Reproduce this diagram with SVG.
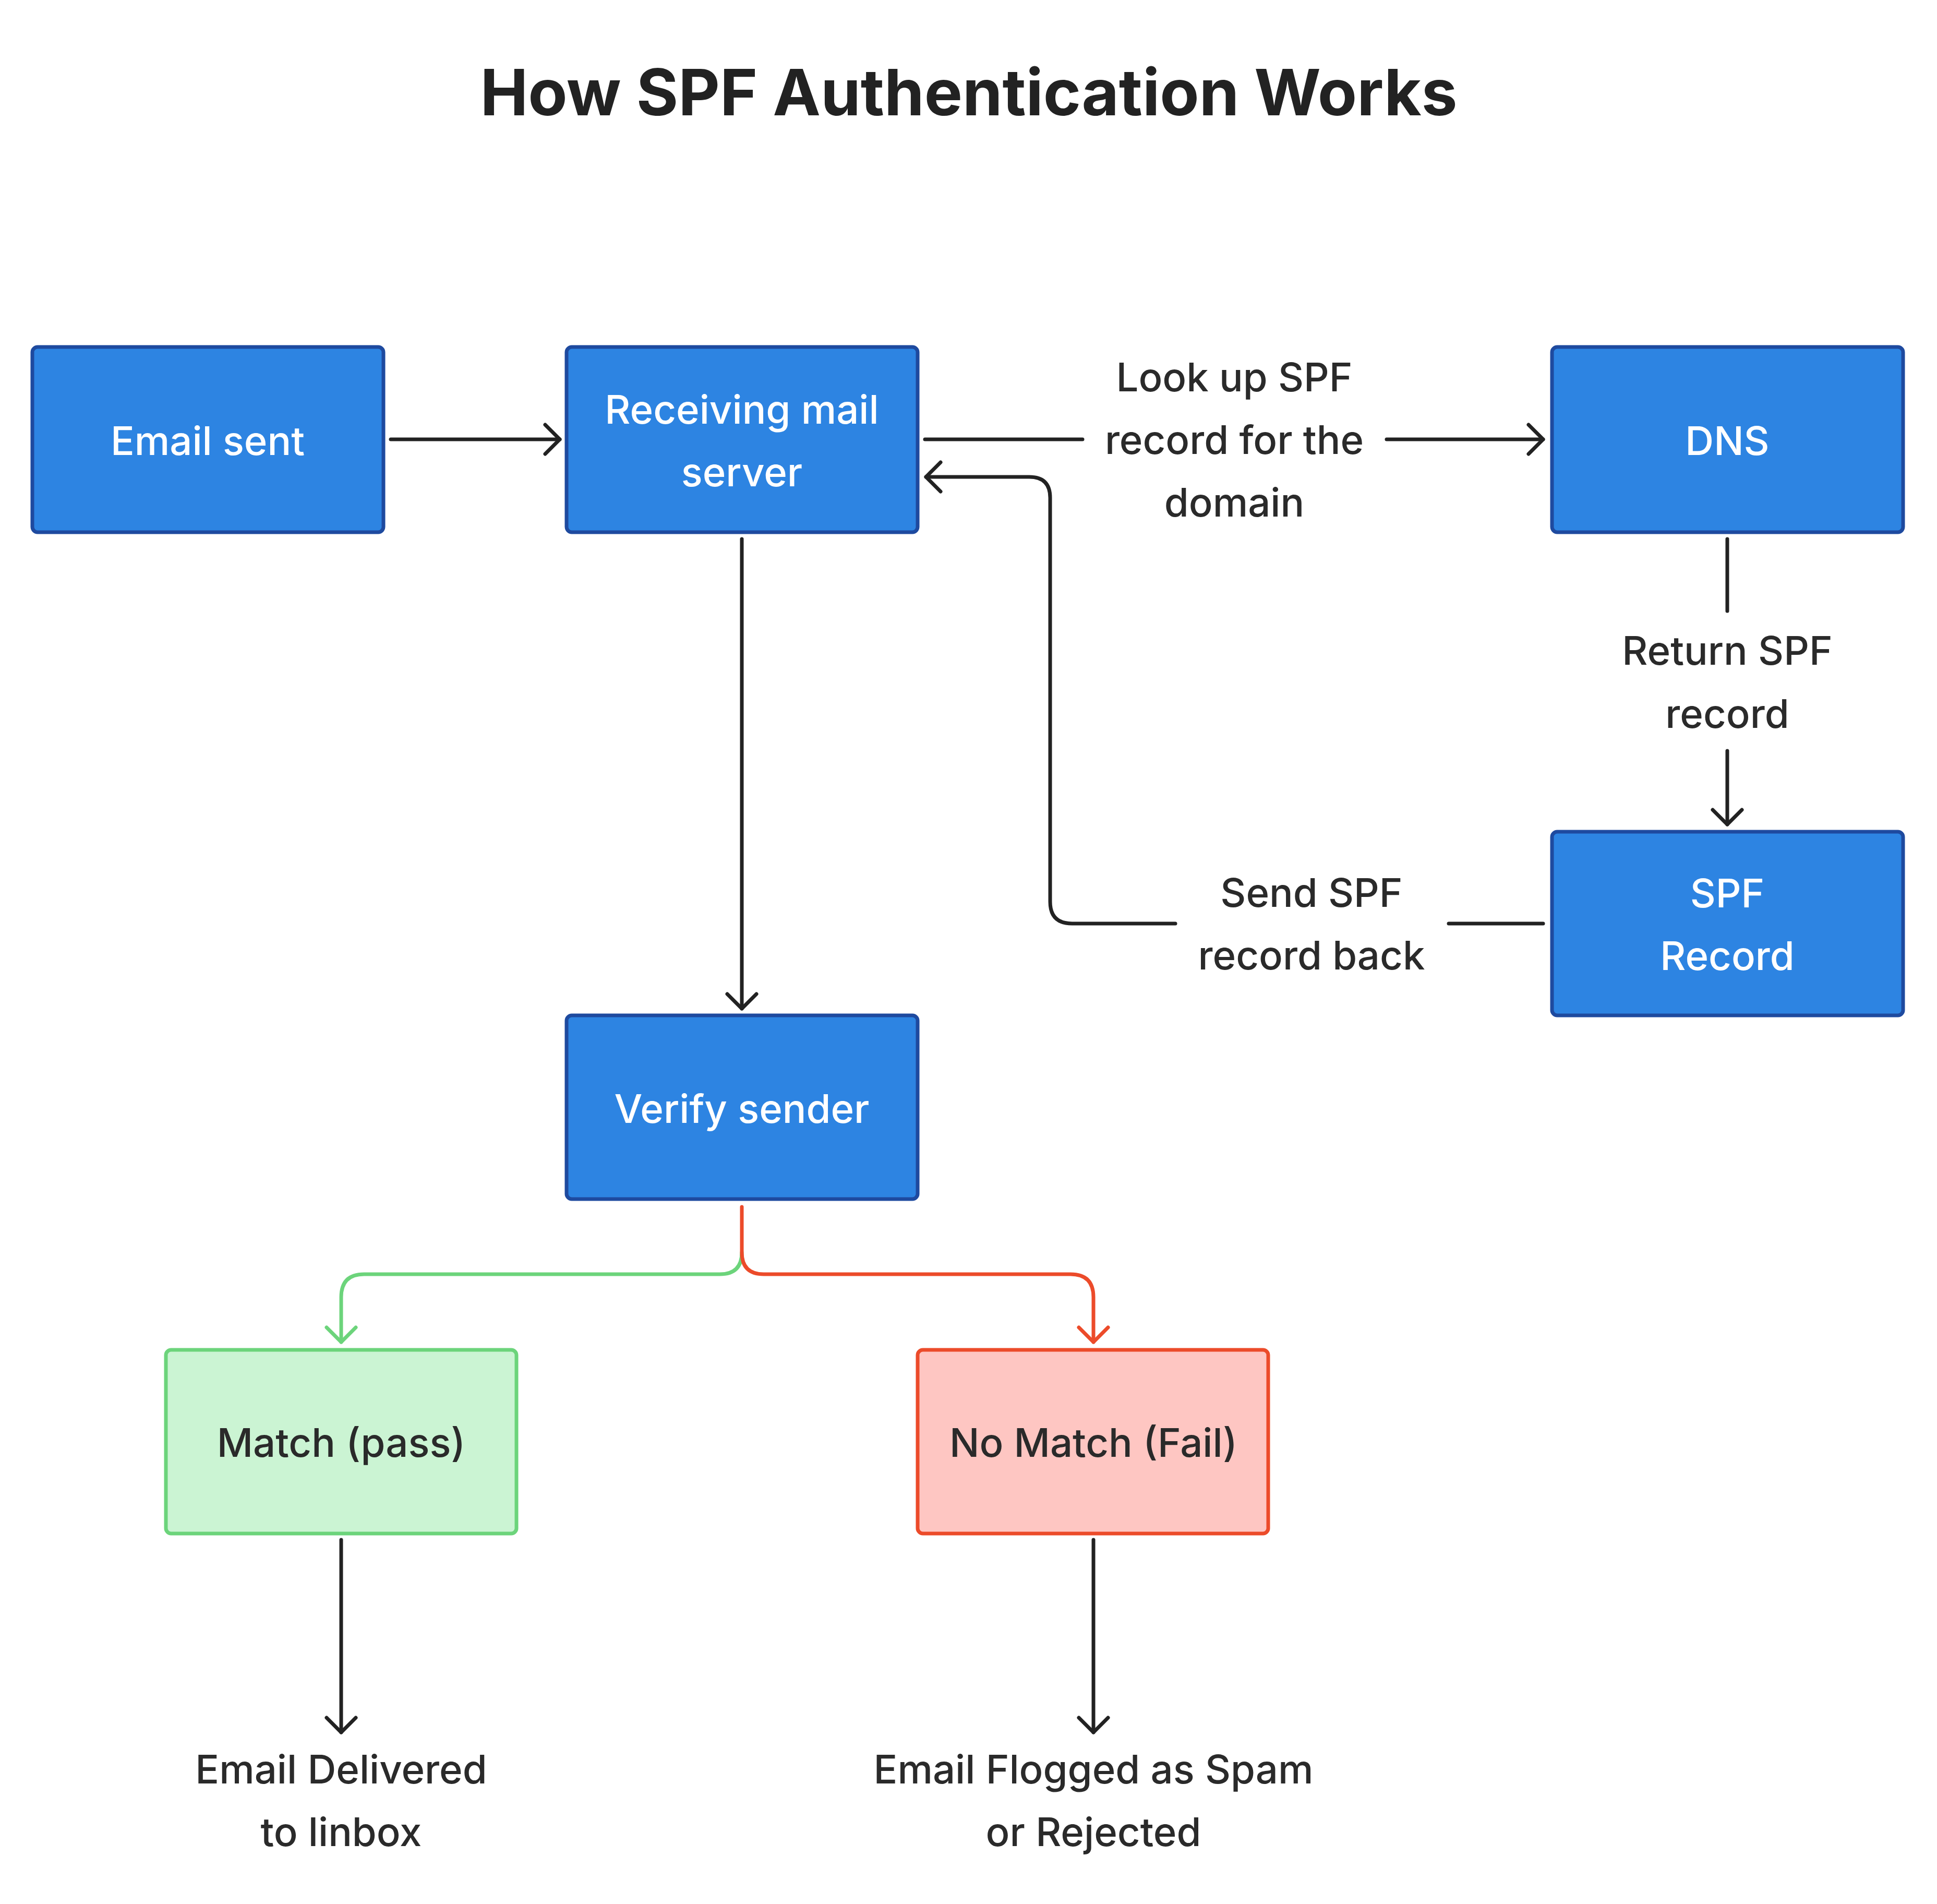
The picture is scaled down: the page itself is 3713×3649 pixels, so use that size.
<svg xmlns="http://www.w3.org/2000/svg" width="3713" height="3649" viewBox="0 0 3713 3649">
<defs>
<style>
.blue{fill:#2d84e2;stroke:#1e4a9f;stroke-width:7}
.green{fill:#cbf4d3;stroke:#6cd47b;stroke-width:7}
.red{fill:#fec6c2;stroke:#ec4b2a;stroke-width:7}
.nt{font-family:Inter,"Noto Sans",sans-serif;font-size:76px;font-weight:500;fill:#ffffff;text-anchor:middle}
.dt{font-family:Inter,"Noto Sans",sans-serif;font-size:76px;font-weight:500;fill:#2a2a2a;text-anchor:middle}
.title{font-family:Inter,"Noto Sans",sans-serif;font-size:123px;font-weight:bold;fill:#222222;text-anchor:middle}
.c{fill:none;stroke:#222222;stroke-width:7;stroke-linecap:round;stroke-linejoin:round}
.cg{fill:none;stroke:#6cd47b;stroke-width:7;stroke-linecap:round;stroke-linejoin:round}
.cr{fill:none;stroke:#ec4b2a;stroke-width:7;stroke-linecap:round;stroke-linejoin:round}
</style>
<marker id="ah" markerUnits="userSpaceOnUse" markerWidth="70" markerHeight="70" viewBox="-40 -35 50 70" refX="0" refY="0" orient="auto">
<path d="M-28,-28 L0,0 L-28,28" fill="none" stroke="#222222" stroke-width="7" stroke-linecap="round" stroke-linejoin="round"/>
</marker>
<marker id="ahg" markerUnits="userSpaceOnUse" markerWidth="70" markerHeight="70" viewBox="-40 -35 50 70" refX="0" refY="0" orient="auto">
<path d="M-28,-28 L0,0 L-28,28" fill="none" stroke="#6cd47b" stroke-width="7" stroke-linecap="round" stroke-linejoin="round"/>
</marker>
<marker id="ahr" markerUnits="userSpaceOnUse" markerWidth="70" markerHeight="70" viewBox="-40 -35 50 70" refX="0" refY="0" orient="auto">
<path d="M-28,-28 L0,0 L-28,28" fill="none" stroke="#ec4b2a" stroke-width="7" stroke-linecap="round" stroke-linejoin="round"/>
</marker>
</defs>
<rect width="3713" height="3649" fill="#ffffff"/>
<text class="title" x="1857" y="221">How SPF Authentication Works</text>

<g id="connectors">
<path class="c" d="M749,842 L1073,842" marker-end="url(#ah)"/>
<path class="c" d="M1773,842 L2075,842"/>
<path class="c" d="M2658,842 L2958,842" marker-end="url(#ah)"/>
<path class="c" d="M3311,1033 L3311,1171"/>
<path class="c" d="M3311,1439 L3311,1580" marker-end="url(#ah)"/>
<path class="c" d="M2958,1770 L2777,1770"/>
<path class="c" d="M2253,1770 L2055,1770 Q2013,1770 2013,1728 L2013,954 Q2013,914 1973,914 L1775,914" marker-end="url(#ah)"/>
<path class="c" d="M1422,1033 L1422,1933" marker-end="url(#ah)"/>
<path class="cg" d="M1422,2400 Q1422,2442 1380,2442 L698,2442 Q654,2442 654,2486 L654,2572" marker-end="url(#ahg)"/>
<path class="cr" d="M1422,2313 L1422,2400 Q1422,2442 1464,2442 L2052,2442 Q2096,2442 2096,2486 L2096,2572" marker-end="url(#ahr)"/>
<path class="c" d="M654,2951 L654,3320" marker-end="url(#ah)"/>
<path class="c" d="M2096,2951 L2096,3320" marker-end="url(#ah)"/>
</g>

<g id="label-lookup">
<text class="dt" x="2366" y="750">Look up SPF</text>
<text class="dt" x="2366" y="870">record for the</text>
<text class="dt" x="2366" y="990">domain</text>
</g>
<g id="label-return">
<text class="dt" x="3311" y="1274">Return SPF</text>
<text class="dt" x="3311" y="1395">record</text>
</g>
<g id="label-send">
<text class="dt" x="2514" y="1738">Send SPF</text>
<text class="dt" x="2514" y="1858">record back</text>
</g>

<g id="node-email-sent">
<rect class="blue" x="62" y="665" width="673" height="355" rx="10"/>
<text class="nt" x="398" y="872">Email sent</text>
</g>
<g id="node-receiving">
<rect class="blue" x="1086" y="665" width="673" height="355" rx="10"/>
<text class="nt" x="1422" y="812">Receiving mail</text>
<text class="nt" x="1422" y="932">server</text>
</g>
<g id="node-dns">
<rect class="blue" x="2975" y="665" width="673" height="355" rx="10"/>
<text class="nt" x="3311" y="872">DNS</text>
</g>
<g id="node-spf-record">
<rect class="blue" x="2975" y="1594" width="673" height="352" rx="10"/>
<text class="nt" x="3311" y="1739">SPF</text>
<text class="nt" x="3311" y="1859">Record</text>
</g>
<g id="node-verify">
<rect class="blue" x="1086" y="1946" width="673" height="352" rx="10"/>
<text class="nt" x="1422" y="2152">Verify sender</text>
</g>
<g id="node-match">
<rect class="green" x="318" y="2587" width="672" height="352" rx="10"/>
<text class="dt" x="654" y="2792">Match (pass)</text>
</g>
<g id="node-nomatch">
<rect class="red" x="1759" y="2587" width="672" height="352" rx="10"/>
<text class="dt" x="2096" y="2792">No Match (Fail)</text>
</g>
<g id="node-delivered">
<text class="dt" x="654" y="3418">Email Delivered</text>
<text class="dt" x="654" y="3538">to linbox</text>
</g>
<g id="node-spam">
<text class="dt" x="2096" y="3418">Email Flogged as Spam</text>
<text class="dt" x="2096" y="3538">or Rejected</text>
</g>
</svg>
